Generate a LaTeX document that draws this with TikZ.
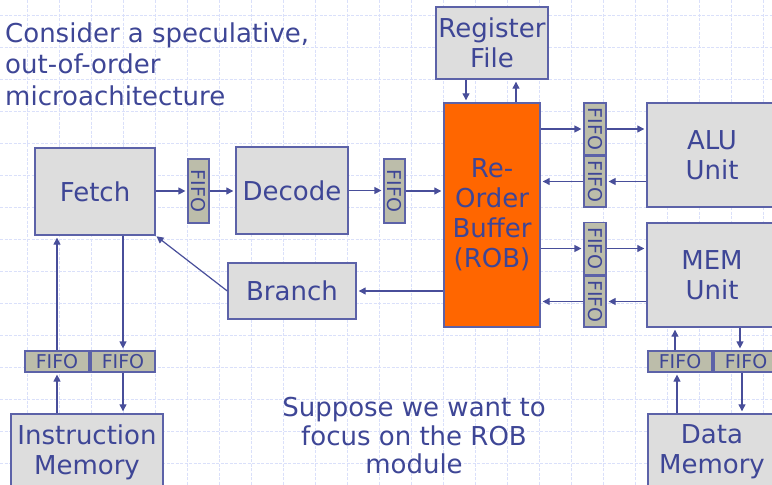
\documentclass[tikz,border=0pt]{standalone}
\usepackage{fontspec}
\setmainfont{DejaVu Sans}
\usetikzlibrary{arrows.meta}
\definecolor{txtc}{RGB}{62,70,150}
\definecolor{bordc}{RGB}{92,98,168}
\definecolor{arrc}{RGB}{72,78,154}
\definecolor{boxc}{RGB}{221,221,221}
\definecolor{fifoc}{RGB}{188,189,170}
\definecolor{robc}{RGB}{255,102,0}
\definecolor{gridc}{RGB}{218,224,250}
\tikzset{
  gridline/.style={draw=gridc, line width=0.7pt, dash pattern=on 3pt off 1.5pt},
  box/.style={draw=bordc, fill=boxc, line width=1.4pt, inner sep=0pt, align=center,
    text=txtc, font=\fontsize{26}{30}\selectfont},
  robbox/.style={box, fill=robc},
  fifo/.style={draw=bordc, fill=fifoc, line width=1.2pt, inner sep=0pt,
    text=txtc, font=\fontsize{19}{20}\selectfont},
  conn/.style={draw=arrc, line width=1.2pt, -{Triangle[length=7pt,width=7pt]}, shorten >=2pt},
  plaintext/.style={text=txtc, inner sep=0pt, font=\fontsize{26}{31.5}\selectfont}
}
\begin{document}
\begin{tikzpicture}[x=1pt,y=-1pt]
\useasboundingbox (0,0) rectangle (772,485);
\clip (0,0) rectangle (772,485);
\fill[white] (0,0) rectangle (772,485);
\foreach \x in {27,59,...,771} \draw[gridline] (\x,0) -- (\x,485);
\foreach \y in {15,47,...,485} \draw[gridline] (0,\y) -- (772,\y);

% title and note
\node[plaintext, anchor=north west, align=left] (title) at (5,22.5)
  {Consider a speculative,\\out-of-order\\microachitecture};
\node[plaintext, anchor=north, align=center, font=\fontsize{26}{28.5}\selectfont] (note) at (414,397)
  {Suppose we want to\\focus on the ROB\\module};

% boxes
\node[box, minimum width=120, minimum height=87] (fetch) at (95,191.5) {Fetch};
\node[box, minimum width=112, minimum height=87] (decode) at (292,190.5) {Decode};
\node[box, minimum width=112, minimum height=72] (rf) at (492,43) {Register\\File};
\node[robbox, minimum width=96, minimum height=224] (rob) at (492,215) {Re-\\Order\\Buffer\\(ROB)};
\node[box, minimum width=130, minimum height=104] (alu) at (712,155) {ALU\\Unit};
\node[box, minimum width=130, minimum height=104] (mem) at (712,275) {MEM\\Unit};
\node[box, minimum width=128, minimum height=56] (branch) at (292,291) {Branch};
\node[box, minimum width=152, minimum height=76] (im) at (87,452) {Instruction\\Memory};
\node[box, minimum width=128, minimum height=76] (dm) at (712,452) {Data\\Memory};

% FIFOs
\node[fifo, minimum width=21, minimum height=64] (fa) at (198.5,191) {\rotatebox{-90}{FIFO}};
\node[fifo, minimum width=21, minimum height=64] (fb) at (394.5,191) {\rotatebox{-90}{FIFO}};
\node[fifo, minimum width=22, minimum height=52] (fc) at (595,129) {\rotatebox{-90}{FIFO}};
\node[fifo, minimum width=22, minimum height=51] (fd) at (595,181.5) {\rotatebox{-90}{FIFO}};
\node[fifo, minimum width=22, minimum height=52] (fe) at (595,248.5) {\rotatebox{-90}{FIFO}};
\node[fifo, minimum width=22, minimum height=51] (ff) at (595,301.5) {\rotatebox{-90}{FIFO}};
\node[fifo, minimum width=64, minimum height=21] (ia) at (57,361.5) {FIFO};
\node[fifo, minimum width=64, minimum height=21] (ib) at (123,361.5) {FIFO};
\node[fifo, minimum width=64, minimum height=21] (da) at (680,361.5) {FIFO};
\node[fifo, minimum width=64, minimum height=21] (db) at (746,361.5) {FIFO};

% connectors
\draw[conn] (fetch.east |- fa) -- (fa.west);
\draw[conn] (fa.east) -- (decode.west |- fa);
\draw[conn] (decode.east) -- (fb.west |- decode);
\draw[conn] (fb.east) -- (rob.west |- fb);
\draw[conn] ([xshift=-26]rf.south) -- ([xshift=-26]rob.north);
\draw[conn] ([xshift=24]rob.north) -- ([xshift=24]rf.south);
\draw[conn] (rob.east |- fc) -- (fc.west);
\draw[conn] (fc.east) -- (alu.west |- fc);
\draw[conn] (alu.west |- fd) -- (fd.east);
\draw[conn] (fd.west) -- (rob.east |- fd);
\draw[conn] (rob.east |- fe) -- (fe.west);
\draw[conn] (fe.east) -- (mem.west |- fe);
\draw[conn] (mem.west |- ff) -- (ff.east);
\draw[conn] (ff.west) -- (rob.east |- ff);
\draw[conn] (rob.west |- branch) -- (branch.east);
\draw[conn, shorten >=1pt] (branch.west) -- (fetch.south east);
\draw[conn] (im.north -| ia) -- (ia.south);
\draw[conn] (ia.north) -- (fetch.south -| ia);
\draw[conn] (fetch.south -| ib) -- (ib.north);
\draw[conn] (ib.south) -- (im.north -| ib);
\draw[conn] ([xshift=-3]da.south |- dm.north) -- ([xshift=-3]da.south);
\draw[conn] ([xshift=-5]da.north) -- ([xshift=-5]da.north |- mem.south);
\draw[conn] ([xshift=-6]db.north |- mem.south) -- ([xshift=-6]db.north);
\draw[conn] ([xshift=-4]db.south) -- ([xshift=-4]db.south |- dm.north);
\end{tikzpicture}
\end{document}
